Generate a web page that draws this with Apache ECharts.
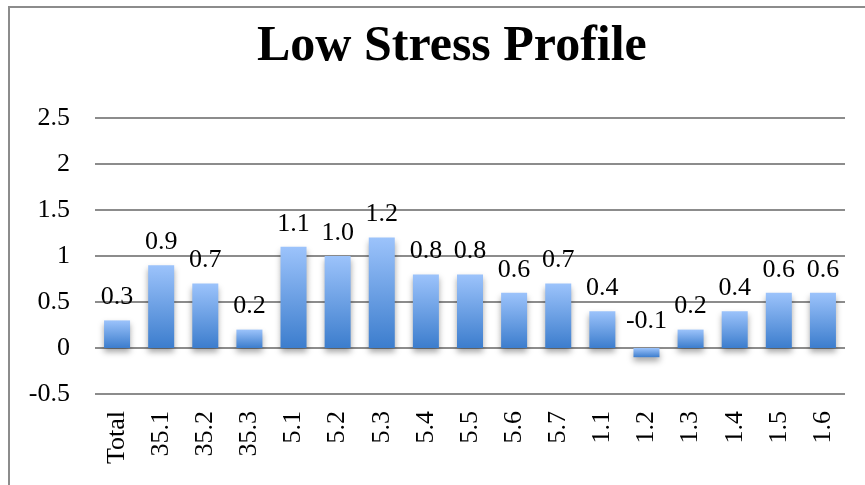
<!DOCTYPE html>
<html>
<head>
<meta charset="utf-8">
<script src="https://cdn.jsdelivr.net/npm/echarts@6/dist/echarts.min.js"></script>
<style>
html, body { margin: 0; padding: 0; background: #fff; }
#chart { width: 865px; height: 485px; }
</style>
</head>
<body>
<div id="chart"></div>
<script>
var categories = ["Total", "35.1", "35.2", "35.3", "5.1", "5.2", "5.3", "5.4", "5.5", "5.6", "5.7", "1.1", "1.2", "1.3", "1.4", "1.5", "1.6"];
var values = [0.3, 0.9, 0.7, 0.2, 1.1, 1.0, 1.2, 0.8, 0.8, 0.6, 0.7, 0.4, -0.1, 0.2, 0.4, 0.6, 0.6];
var yTicks = [-0.5, 0, 0.5, 1, 1.5, 2, 2.5];

var serif = "'Liberation Serif', 'DejaVu Serif', serif";

var chart = echarts.init(document.getElementById("chart"));
var option = {
    backgroundColor: "#fff",
    animation: false,
    title: {
        text: "Low Stress Profile",
        left: 252,
        top: 17,
        textStyle: {
            fontFamily: serif,
            fontWeight: "bold",
            fontSize: 50,
            color: "#000"
        }
    },
    graphic: [{
        type: "polyline",
        shape: {points: [[9, 490], [9, 7], [870, 7]]},
        style: {stroke: "#8c8c8c", lineWidth: 2, fill: null}
    }],
    grid: {left: 95, right: 20, top: 118, bottom: 91},
    xAxis: {
        type: "category",
        data: categories,
        axisLine: {show: false},
        axisTick: {show: false},
        axisLabel: {
            rotate: 90,
            interval: 0,
            margin: 17,
            fontFamily: serif,
            fontSize: 26,
            color: "#000"
        }
    },
    yAxis: {
        type: "value",
        min: yTicks[0],
        max: yTicks[yTicks.length - 1],
        interval: 0.5,
        axisLine: {show: false},
        axisTick: {show: false},
        splitLine: {lineStyle: {color: "#8c8c8c", width: 2}},
        axisLabel: {
            margin: 25,
            fontFamily: serif,
            fontSize: 26,
            color: "#000"
        }
    },
    series: [{
        type: "bar",
        barWidth: 26,
        data: values.map(function (v) {
            var item = {value: v};
            if (v < 0) item.label = {offset: [0, -4]};
            return item;
        }),
        itemStyle: {
            color: new echarts.graphic.LinearGradient(0, 0, 0, 1, [
                {offset: 0, color: "#9cc3fb"},
                {offset: 1, color: "#3c7dcd"}
            ]),
            shadowColor: "rgba(0,0,0,0.35)",
            shadowBlur: 6,
            shadowOffsetY: 4
        },
        label: {
            show: true,
            position: "top",
            distance: 10,
            fontFamily: serif,
            fontSize: 26,
            color: "#000",
            formatter: function (p) { return p.value.toFixed(1); }
        }
    }]
};
chart.setOption(option);
</script>
</body>
</html>
